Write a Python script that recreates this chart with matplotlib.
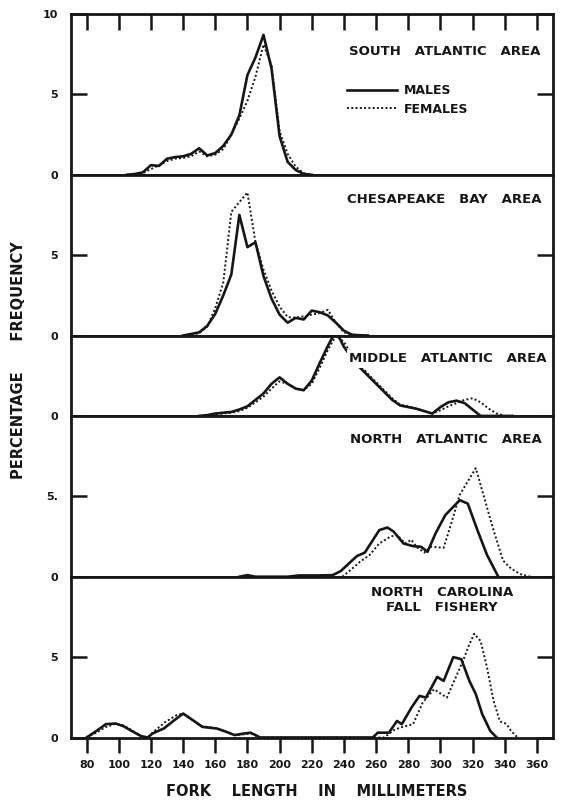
import matplotlib.pyplot as plt

plt.rcParams['font.family'] = ['DejaVu Sans']
plt.rcParams['font.weight'] = 'bold'

# fork length (mm) and percentage frequency
sa_len = list(range(105, 221, 5))
sa_males = [0, 0.05, 0.15, 0.6, 0.55, 1.0, 1.1, 1.15, 1.3, 1.65, 1.2, 1.35,
            1.8, 2.5, 3.7, 6.2, 7.3, 8.7, 6.6, 2.4, 0.8, 0.3, 0.05, 0]
sa_females = [0, 0, 0.1, 0.35, 0.6, 0.85, 1.0, 1.05, 1.15, 1.45, 1.15, 1.25,
              1.6, 2.5, 3.5, 4.6, 6.1, 8.1, 6.8, 2.7, 1.3, 0.5, 0.1, 0]

cb_len = list(range(140, 256, 5))
cb_males = [0, 0.1, 0.2, 0.6, 1.35, 2.5, 3.8, 7.5, 5.5, 5.8, 3.7, 2.3,
            1.3, 0.8, 1.1, 1.0, 1.55, 1.45, 1.25, 0.8, 0.3, 0.05, 0.02, 0]
cb_females = [0, 0.05, 0.15, 0.55, 1.7, 3.3, 7.7, 8.3, 8.9, 5.8, 4.1, 2.8,
              1.8, 1.15, 1.1, 1.2, 1.3, 1.4, 1.6, 0.8, 0.2, 0.05, 0, 0]

ma_len = list(range(150, 346, 5))
ma_males = [0, 0.05, 0.15, 0.2, 0.25, 0.4, 0.6, 1.0, 1.4, 2.0, 2.4, 2.0,
            1.7, 1.6, 2.2, 3.3, 4.35, 5.3, 4.3, 3.6, 3.0, 2.5, 2.0, 1.5,
            1.0, 0.65, 0.55, 0.45, 0.3, 0.15, 0.55, 0.85, 0.95, 0.8, 0.4, 0,
            0, 0, 0, 0]
ma_females = [0, 0.03, 0.1, 0.15, 0.2, 0.3, 0.5, 0.85, 1.2, 1.7, 2.15, 2.0,
              1.7, 1.6, 2.0, 3.0, 4.1, 5.0, 4.6, 3.8, 3.2, 2.6, 2.1, 1.6,
              1.1, 0.7, 0.6, 0.45, 0.3, 0.15, 0.35, 0.6, 0.8, 1.0, 1.1, 0.85,
              0.45, 0.15, 0, 0]

na_m_len = [175, 180, 185, 205, 212, 225, 233, 238, 242, 248, 253, 262, 267,
            271, 277, 283, 288, 292, 297, 303, 312, 317, 323, 329, 336]
na_males = [0, 0.1, 0, 0, 0.08, 0.08, 0.1, 0.35, 0.72, 1.28, 1.5, 2.9, 3.06,
            2.8, 2.07, 1.9, 1.86, 1.55, 2.7, 3.83, 4.76, 4.55, 2.9, 1.35, 0]
na_f_len = [239, 244, 250, 256, 262, 269, 273, 278, 282, 285, 290, 294,
            302, 307, 312, 322, 327, 333, 339, 344, 350, 356]
na_females = [0, 0.4, 0.93, 1.35, 2.07, 2.5, 2.6, 2.07, 2.3, 1.86, 1.5, 1.86,
              1.8, 3.4, 5.1, 6.75, 5.0, 2.9, 1.0, 0.5, 0.15, 0]

nc_m_len = [80, 86, 92, 98, 103, 109, 114, 118, 121, 128, 134, 140, 146, 152,
            161, 167, 172, 178, 182, 188, 258, 261, 268, 273, 276, 282, 287,
            291, 298, 302, 308, 313, 318, 322, 326, 331, 335]
nc_males = [0, 0.4, 0.83, 0.87, 0.7, 0.35, 0.08, 0, 0.25, 0.56, 1.03, 1.49,
            1.08, 0.66, 0.56, 0.35, 0.15, 0.25, 0.3, 0, 0, 0.3, 0.3, 1.03,
            0.83, 1.86, 2.59, 2.48, 3.77, 3.52, 5.0, 4.87, 3.52, 2.7, 1.45,
            0.41, 0]
nc_f_len = [80, 86, 92, 98, 103, 109, 114, 118, 121, 129, 136, 140, 146, 152,
            161, 167, 172, 178, 182, 188, 265, 271, 275, 283, 289, 296, 304,
            314, 318, 321, 325, 329, 333, 337, 341, 344, 348]
nc_females = [0, 0.3, 0.65, 0.85, 0.75, 0.4, 0.1, 0, 0.3, 0.97, 1.39, 1.49,
              1.08, 0.7, 0.56, 0.35, 0.15, 0.2, 0.25, 0, 0, 0.45, 0.62, 0.83,
              2.17, 3.0, 2.48, 4.76, 5.8, 6.45, 6.0, 4.35, 2.3, 1.0, 0.85,
              0.4, 0]

x_ticks = list(range(80, 361, 20))
INK = '#161616'


def draw_panel(ax, m_len, m_val, f_len, f_val, ymax, yticks, ylabels):
    ax.plot(m_len, m_val, color=INK, lw=1.9, solid_joinstyle='round',
            label='MALES')
    ax.plot(f_len, f_val, color=INK, lw=1.4, linestyle=(0, (1, 1.2)),
            label='FEMALES')
    ax.set_xlim(70, 370)
    ax.set_ylim(0, ymax)
    ax.set_xticks(x_ticks)
    ax.set_yticks(yticks)
    ax.set_yticklabels(ylabels)
    for sp in ax.spines.values():
        sp.set_linewidth(2)
        sp.set_color(INK)
    ax.tick_params(axis='y', direction='in', left=True, right=True,
                   length=11.5, width=1.8, pad=9, labelsize=8, colors=INK)
    ax.tick_params(axis='x', bottom=False, top=False, labelbottom=False)


def title(ax, txt, x, y, ha='left'):
    ax.text(x, y, txt, transform=ax.transAxes, ha=ha, va='center',
            fontsize=9.5, color=INK, linespacing=1.2,
            bbox=dict(facecolor='white', edgecolor='none', pad=1.5))


fig = plt.figure(figsize=(5.64, 8.0), dpi=100)
gs = fig.add_gridspec(5, 1, height_ratios=[10, 10, 5, 10, 10],
                      left=70.5 / 564, right=553 / 564,
                      top=1 - 14 / 800, bottom=1 - 737.5 / 800, hspace=0)
axs = [fig.add_subplot(gs[i]) for i in range(5)]

draw_panel(axs[0], sa_len, sa_males, sa_len, sa_females, 10,
           [0, 5, 10], ['0', '5', '10'])
draw_panel(axs[1], cb_len, cb_males, cb_len, cb_females, 10,
           [0, 5], ['0', '5'])
draw_panel(axs[2], ma_len, ma_males, ma_len, ma_females, 5, [0], ['0'])
draw_panel(axs[3], na_m_len, na_males, na_f_len, na_females, 10,
           [0, 5], ['0', '5.'])
draw_panel(axs[4], nc_m_len, nc_males, nc_f_len, nc_females, 10,
           [0, 5], ['0', '5'])

axs[0].tick_params(axis='x', top=True, direction='in', length=11.5,
                   width=1.8, colors=INK)
axs[4].tick_params(axis='x', bottom=True, direction='out', length=11,
                   width=1.8, labelbottom=True, labelsize=8, pad=5,
                   colors=INK)

title(axs[0], 'SOUTH   ATLANTIC   AREA', 0.577, 0.767)
title(axs[1], 'CHESAPEAKE   BAY   AREA', 0.573, 0.847)
title(axs[2], 'MIDDLE   ATLANTIC   AREA', 0.577, 0.709)
title(axs[3], 'NORTH   ATLANTIC   AREA', 0.579, 0.855)
title(axs[4], 'NORTH   CAROLINA\nFALL   FISHERY', 0.77, 0.853, ha='center')

leg = axs[0].legend(loc='upper left', bbox_to_anchor=(0.573, 0.565),
                    frameon=False, handlelength=4.0, handletextpad=0.55,
                    labelspacing=0.45, borderpad=0, borderaxespad=0,
                    prop={'size': 9, 'weight': 'bold'})
for t in leg.get_texts():
    t.set_color(INK)

fig.text(19 / 564, 1 - 360.5 / 800, 'PERCENTAGE      FREQUENCY', rotation=90,
         ha='center', va='center', fontsize=10.5, color=INK)
fig.text(316.5 / 564, 1 - 791.7 / 800, 'FORK    LENGTH    IN    MILLIMETERS',
         ha='center', va='center', fontsize=10.5, color=INK)

fig.savefig('out.png', dpi=100, facecolor='white')
